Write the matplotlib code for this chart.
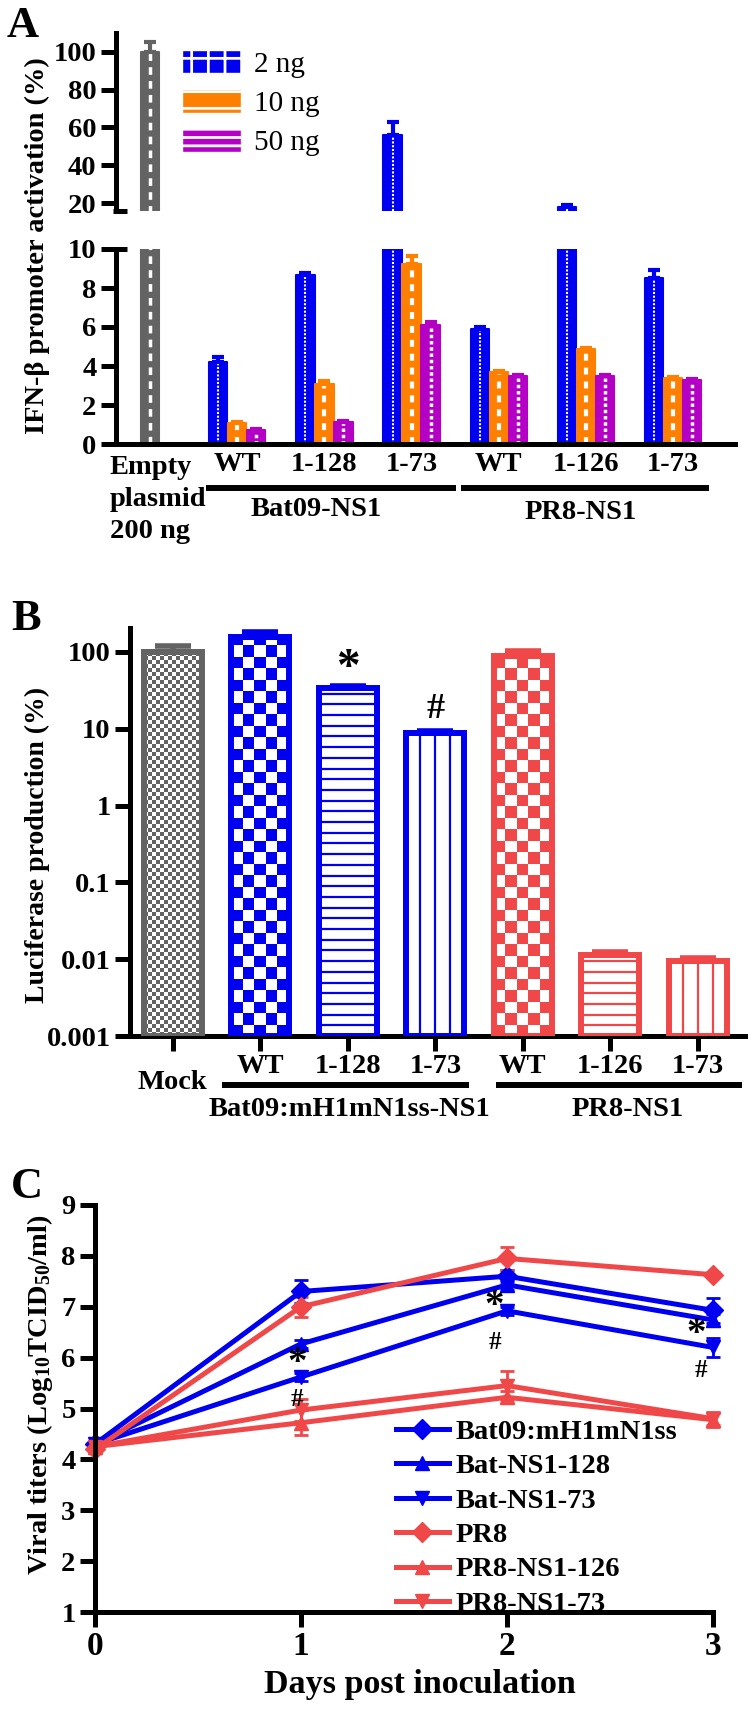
import numpy as np
import matplotlib
matplotlib.use('Agg')
import matplotlib.pyplot as plt
from matplotlib import transforms
from matplotlib.patches import Rectangle, Patch
from matplotlib.collections import PatchCollection, LineCollection

plt.rcParams['font.family'] = ['Liberation Serif', 'DejaVu Serif']
plt.rcParams['font.weight'] = 'bold'
plt.rcParams['mathtext.fontset'] = 'custom'
plt.rcParams['mathtext.rm'] = 'Liberation Serif:bold'
plt.rcParams['mathtext.it'] = 'Liberation Serif:bold'
plt.rcParams['mathtext.bf'] = 'Liberation Serif:bold'
plt.rcParams['mathtext.default'] = 'rm'
plt.rcParams['lines.scale_dashes'] = False
plt.rcParams['hatch.linewidth'] = 2.0

BLUE = '#0000F0'
RED = '#F04848'
GRAY = '#636363'
ORANGE = '#FF8000'
MAGENTA = '#B400C4'

# panel A data (IFN-b promoter activation, %)
a_cats = ['WT', '1-128', '1-73', 'WT', '1-126', '1-73']
a_groups = ['Bat09-NS1', 'PR8-NS1']
empty_val = 100
empty_err = 5
a_doses = ['2 ng', '10 ng', '50 ng']
a_2ng = [4.2, 8.65, 56, 5.9, 18, 8.5]
a_2ng_err = [0.25, 0.12, 7, 0.08, 1.0, 0.4]
a_10ng = [1.1, 3.1, 9.25, 3.7, 4.85, 3.4]
a_10ng_err = [0.05, 0.15, 0.4, 0.05, 0.05, 0.05]
a_50ng = [0.72, 1.15, 6.1, 3.5, 3.5, 3.3]
a_50ng_err = [0.04, 0.05, 0.15, 0.05, 0.05, 0.05]

# panel B data (luciferase production, %)
b_cats = ['Mock', 'WT', '1-128', '1-73', 'WT', '1-126', '1-73']
b_groups = ['Bat09:mH1mN1ss-NS1', 'PR8-NS1']
b_vals = [100, 155, 34, 8.8, 89, 0.0115, 0.0095]
b_err = [20, 25, 1.5, 0.5, 15, 0.001, 0.0009]
b_colors = [GRAY, BLUE, BLUE, BLUE, RED, RED, RED]
b_fill = ['fine', 'checker', 'hlines', 'vlines', 'checker', 'hlines', 'vlines']

# panel C data (viral titers)
days = [0, 1, 2, 3]
c_names = ['Bat09:mH1mN1ss', 'Bat-NS1-128', 'Bat-NS1-73', 'PR8', 'PR8-NS1-126', 'PR8-NS1-73']
bat09 = [4.3, 7.3, 7.6, 6.93]
bat09_err = [0.05, 0.22, 0.12, 0.25]
bat128 = [4.3, 6.27, 7.43, 6.74]
bat128_err = [0.05, 0.08, 0.1, 0.12]
bat73 = [4.3, 5.62, 6.92, 6.2]
bat73_err = [0.05, 0.08, 0.08, 0.18]
pr8 = [4.2, 7.0, 7.95, 7.63]
pr8_err = [0.05, 0.2, 0.23, 0.05]
pr126 = [4.25, 4.72, 5.22, 4.78]
pr126_err = [0.05, 0.25, 0.12, 0.15]
pr73 = [4.25, 4.97, 5.45, 4.8]
pr73_err = [0.05, 0.22, 0.28, 0.12]

W, H = 753, 1709
fig = plt.figure(figsize=(W / 100, H / 100), dpi=100)


def rect(l, t, r, b):
    return [l / W, 1 - b / H, (r - l) / W, (b - t) / H]


def style(ax):
    for s in ['top', 'right']:
        ax.spines[s].set_visible(False)
    for s in ['left', 'bottom']:
        ax.spines[s].set_linewidth(3.6)
    ax.tick_params(direction='out', length=11, width=3.6, labelsize=20.5, pad=3)


# ---------------- panel A ----------------
axT = fig.add_axes(rect(116, 33, 735, 211))
axB = fig.add_axes(rect(116, 249, 735, 444))
xg = np.arange(1, 7)
bw = 0.21
off = 0.218
series_a = [
    (a_2ng, a_2ng_err, BLUE, -off, (0, (1.5, 1.2)), 1.5),
    (a_10ng, a_10ng_err, ORANGE, 0, (0, (5, 5)), 3),
    (a_50ng, a_50ng_err, MAGENTA, off, (0, (2.5, 2)), 2.5),
]
for ax in (axT, axB):
    ax.bar(0, empty_val, bw, color=GRAY, edgecolor=GRAY, lw=1.5, joinstyle='round')
    ax.vlines(0, 0, empty_val, colors='white', lw=2.5, linestyles=(0, (5.5, 4.5)))
    ax.errorbar(0, empty_val, yerr=[[0], [empty_err]], fmt='none', ecolor=GRAY,
                elinewidth=3, capsize=4, capthick=3)
    for vals, errs, col, dx, ls, lw in series_a:
        xs = xg + dx
        ax.bar(xs, vals, bw, color=col, edgecolor=col, lw=1.5, joinstyle='round')
        ax.vlines(xs, 0, vals, colors='white', lw=lw, linestyles=ls)
        ax.errorbar(xs, vals, yerr=[np.zeros(len(vals)), errs], fmt='none', ecolor=col,
                    elinewidth=3, capsize=4, capthick=3)
    ax.set_xlim(-0.39, 6.71)
    style(ax)

axT.set_ylim(15.8, 110)
axT.set_yticks([20, 40, 60, 80, 100])
axT.spines['bottom'].set_visible(False)
axT.set_xticks([])
axT.plot([-0.005, 0.018], [0, 0], transform=axT.transAxes, color='k', lw=3.6,
         clip_on=False, solid_capstyle='butt')

axB.set_ylim(0, 10)
axB.set_yticks([0, 2, 4, 6, 8, 10])
axB.set_xticks(np.arange(7))
axB.set_xticklabels([''] + a_cats)
axB.tick_params(axis='x', length=0, pad=6)
axB.plot([0, 0.018], [1, 1], transform=axB.transAxes, color='k', lw=3.6,
         clip_on=False, solid_capstyle='butt')

tA = transforms.blended_transform_factory(axB.transData, axB.transAxes)
for i, line in enumerate(['Empty', 'plasmid', '200 ng']):
    axB.text(-0.46, [-0.118, -0.287, -0.451][i], line, transform=tA, ha='left',
             va='center', fontsize=20.5)
axB.plot([0.64, 3.51], [-0.226, -0.226], transform=tA, color='k', lw=4.3,
         clip_on=False, solid_capstyle='butt')
axB.plot([3.57, 6.41], [-0.226, -0.226], transform=tA, color='k', lw=4.3,
         clip_on=False, solid_capstyle='butt')
axB.text(1.91, -0.338, a_groups[0], transform=tA, ha='center', va='center', fontsize=20.5)
axB.text(4.94, -0.350, a_groups[1], transform=tA, ha='center', va='center', fontsize=20.5)

leg_handles = [Patch(facecolor=BLUE, edgecolor='white', hatch='+', lw=1),
               Patch(facecolor=ORANGE, edgecolor='white', hatch='-', lw=1),
               Patch(facecolor=MAGENTA, edgecolor='white', hatch='--', lw=1)]
axT.legend(leg_handles, a_doses, loc='upper left', bbox_to_anchor=(0.107, 0.905),
           frameon=False, prop={'size': 21, 'weight': 'normal'}, handlelength=2.0,
           handleheight=0.85, labelspacing=0.4, handletextpad=0.45, borderpad=0,
           borderaxespad=0)

fig.text(37 / W, 1 - 246 / H, 'IFN-β promoter activation (%)', rotation=90,
         ha='center', va='center', fontsize=20.5)
fig.text(23 / W, 1 - 26 / H, 'A', ha='center', va='center', fontsize=32)

# ---------------- panel B ----------------
axL = fig.add_axes(rect(130, 628, 745, 1036))
axL.set_yscale('log')
axL.set_ylim(0.001, 205)
axL.set_xlim(-0.49, 6.54)
style(axL)
axL.set_yticks([0.001, 0.01, 0.1, 1, 10, 100])
axL.set_yticklabels(['0.001', '0.01', '0.1', '1', '10', '100'])
axL.minorticks_off()
axL.set_xticks(np.arange(7))
axL.set_xticklabels([''] + b_cats[1:])
axL.tick_params(axis='x', pad=2)

tB = transforms.blended_transform_factory(axL.transData, axL.transAxes)
px_x = axL.bbox.width / (axL.get_xlim()[1] - axL.get_xlim()[0])
px_y = axL.bbox.height
bwB = 0.663


def bar_pattern(ax, x, v, err, color, kind):
    bg = ax.bar(x, v - 0.001, bwB, bottom=0.001, color='white', edgecolor='none', zorder=1)[0]
    top = ax.transAxes.inverted().transform(ax.transData.transform((x, v)))[1]
    x0, x1 = x - bwB / 2, x + bwB / 2
    if kind in ('fine', 'checker'):
        s = 4 if kind == 'fine' else 11.5
        dx, dy = s / px_x, s / px_y
        nx = int(np.ceil(bwB / dx))
        ny = int(np.ceil(top / dy))
        sq = [Rectangle((x0 + i * dx, j * dy), dx, dy)
              for i in range(nx) for j in range(ny) if (i + j) % 2 == 0]
        pc = PatchCollection(sq, facecolor=color, edgecolor='none', transform=tB, zorder=2)
        ax.add_collection(pc, autolim=False)
        pc.set_clip_path(bg)
    elif kind == 'hlines':
        step = 10.7 / px_y
        segs = [[(x0, y), (x1, y)] for y in np.arange(step, top, step)]
        lc = LineCollection(segs, colors=color, linewidths=1.6, transform=tB, zorder=2)
        ax.add_collection(lc, autolim=False)
        lc.set_clip_path(bg)
    else:
        vl = ax.vlines([x - 0.17, x, x + 0.17], 0.001, v, colors=color, lw=1.6, zorder=2)
        vl.set_clip_path(bg)
    ax.bar(x, v - 0.001, bwB, bottom=0.001, facecolor='none', edgecolor=color, lw=4.3, zorder=3)
    ax.errorbar(x, v, yerr=[[0], [err]], fmt='none', ecolor=color, elinewidth=4,
                capsize=13, capthick=4, zorder=3)


for i in range(len(b_vals)):
    bar_pattern(axL, i, b_vals[i], b_err[i], b_colors[i], b_fill[i])

axL.text(2, 60, '*', ha='center', va='center', fontsize=34)
axL.text(3, 17.7, '#', ha='center', va='center', fontsize=26)
axL.text(0, -0.115, b_cats[0], transform=tB, ha='center', va='center', fontsize=20.5)
axL.plot([0.56, 3.39], [-0.12, -0.12], transform=tB, color='k', lw=4.3,
         clip_on=False, solid_capstyle='butt')
axL.plot([3.69, 6.51], [-0.12, -0.12], transform=tB, color='k', lw=4.3,
         clip_on=False, solid_capstyle='butt')
axL.text(2.02, -0.181, b_groups[0], transform=tB, ha='center', va='center', fontsize=20.5)
axL.text(5.2, -0.181, b_groups[1], transform=tB, ha='center', va='center', fontsize=20.5)

fig.text(37 / W, 1 - 845 / H, 'Luciferase production (%)', rotation=90,
         ha='center', va='center', fontsize=20)
fig.text(26 / W, 1 - 619 / H, 'B', ha='center', va='center', fontsize=32)

# ---------------- panel C ----------------
axC = fig.add_axes(rect(95, 1205, 713, 1612))
axC.set_xlim(0, 3)
axC.set_ylim(1, 9)
style(axC)
axC.set_xticks(days)
axC.set_yticks(range(1, 10))
axC.tick_params(axis='x', labelsize=24)

c_series = [
    (bat09, bat09_err, BLUE, 'D'),
    (bat128, bat128_err, BLUE, '^'),
    (bat73, bat73_err, BLUE, 'v'),
    (pr8, pr8_err, RED, 'D'),
    (pr126, pr126_err, RED, '^'),
    (pr73, pr73_err, RED, 'v'),
]
handles = []
for name, (vals, errs, col, mk) in zip(c_names, c_series):
    eb = axC.errorbar(days, vals, yerr=errs, color=col, marker=mk, ms=10, lw=3.6,
                      elinewidth=2, capsize=5, capthick=2, clip_on=False)
    for art in eb.lines[1] + eb.lines[2]:
        art.set_clip_on(False)
    handles.append(eb.lines[0])

axC.legend(handles, c_names, loc='upper left', bbox_to_anchor=(0.487, 0.475),
           frameon=False, fontsize=20.5, handlelength=1.85, handletextpad=0.25,
           labelspacing=0.3, borderpad=0, borderaxespad=0)

# significance marks: (day, level, symbol, size)
for x, y, s, fs in [(0.98, 5.88, '*', 28), (0.98, 5.18, '#', 18),
                    (1.94, 7.0, '*', 28), (1.94, 6.3, '#', 18),
                    (2.92, 6.45, '*', 28), (2.94, 5.75, '#', 18)]:
    axC.text(x, y, s, ha='center', va='center', fontsize=fs)

fig.text(420 / W, 1 - 1685 / H, 'Days post inoculation', ha='center', va='center', fontsize=24.5)
fig.text(40 / W, 1 - 1395 / H, 'Viral titers (Log$_{10}$TCID$_{50}$/ml)', rotation=90,
         ha='center', va='center', fontsize=20.5)
fig.text(27 / W, 1 - 1187 / H, 'C', ha='center', va='center', fontsize=32)

fig.savefig('out.png', dpi=100)
